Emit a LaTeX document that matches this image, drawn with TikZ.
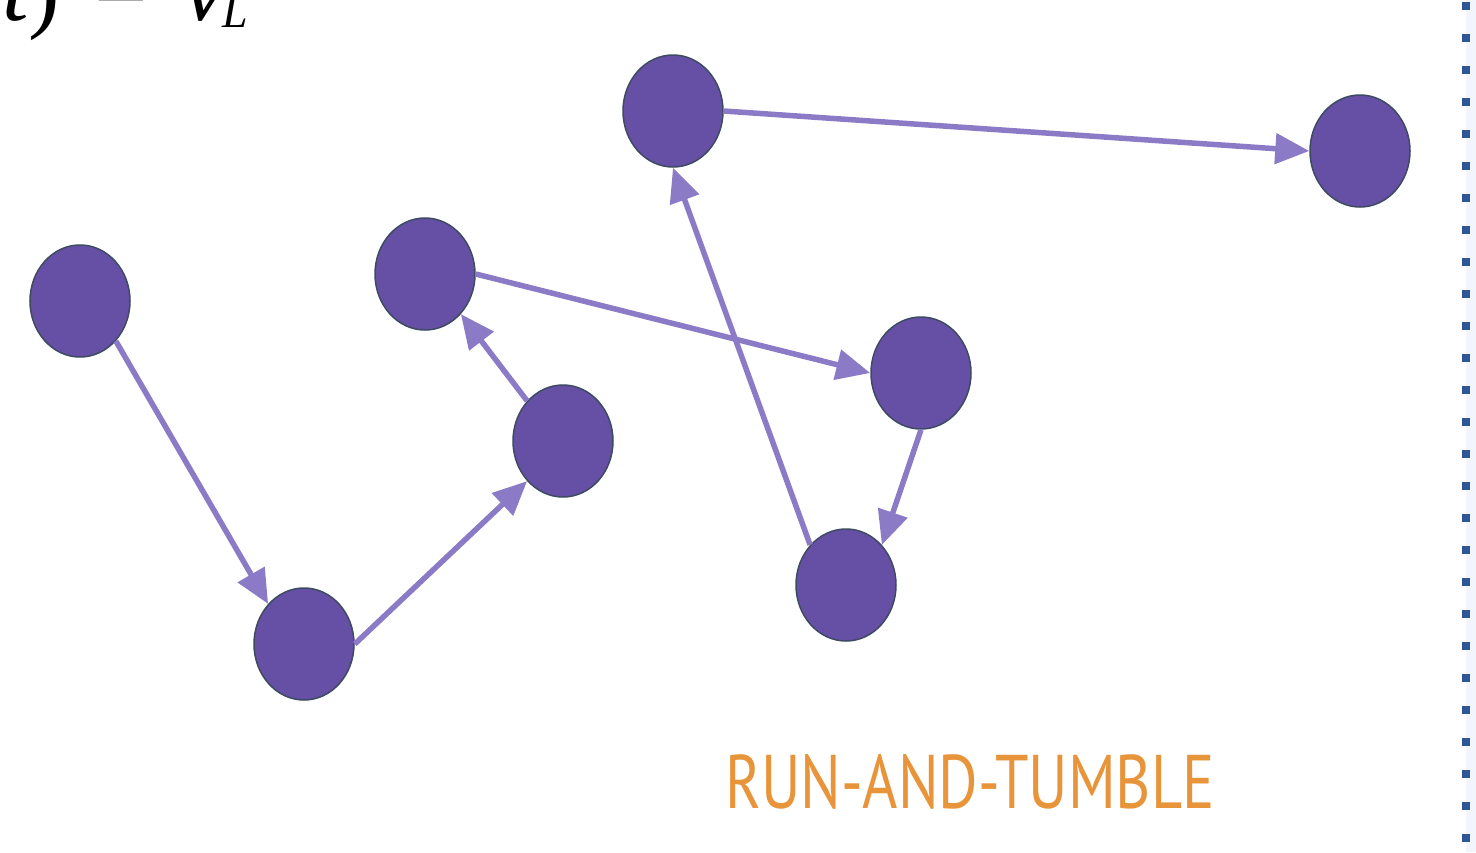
\documentclass[tikz,border=0pt]{standalone}
\usepackage{fontspec}
\usepackage{tikz}
\usetikzlibrary{shapes.geometric,arrows.meta}
\newfontfamily\labelfont{PT Sans}
\newfontfamily\formulafont{Liberation Serif}
\definecolor{cellfill}{HTML}{6650A6}
\definecolor{cellline}{HTML}{3E4A61}
\definecolor{runline}{HTML}{8B7BC6}
\definecolor{tumbleorange}{HTML}{E8943A}
\definecolor{edgeblue}{HTML}{2F5597}
\definecolor{edgestrip}{HTML}{F2F6FC}
\tikzstyle{cell}=[ellipse,draw=cellline,fill=cellfill,line width=1.5pt,minimum width=100pt,minimum height=112pt,inner sep=0pt]
\tikzstyle{run}=[color=runline,line width=5.5pt,-{Triangle[length=34pt,width=30pt]}]

\begin{document}
\begin{tikzpicture}[x=1pt,y=-1pt]
  \useasboundingbox (0,0) rectangle (1476,852);
  % right hand border of the slide
  \fill[edgestrip] (1466,0) rectangle (1476,852);
  \foreach \k in {0,...,26}
    \fill[edgeblue] (1462,2+32*\k) rectangle (1470,10+32*\k);
  % formula cut off at the top
  \node(formula)[anchor=base west,inner sep=0pt] at (2,20)
    {\fontsize{95}{95}\selectfont\formulafont\itshape t\upshape)\hspace{34pt}=\hspace{36pt}\itshape v\hspace{-3pt}\fontsize{46}{46}\selectfont\raisebox{-7pt}{L}};
  \node(s0)[cell] at (80,301){};
  \node(s1)[cell] at (304,644){};
  \node(s2)[cell] at (563,441){};
  \node(s3)[cell] at (425,274){};
  \node(s4)[cell] at (921,373){};
  \node(s5)[cell] at (846,585){};
  \node(s6)[cell] at (673,111){};
  \node(s7)[cell] at (1360,151){};
  \draw[run] (s0.south east) -- (s1.north west);
  \draw[run] (s1.east) -- (s2.south west);
  \draw[run] (s2.north west) -- (s3.south east);
  \draw[run] (s3.east) -- (s4.west);
  \draw[run] (s4.south) -- (s5.north east);
  \draw[run] (s5.north west) -- (s6.south);
  \draw[run] (s6.east) -- (s7.west);
  \node(title)[anchor=base west,inner sep=0pt,xscale=0.795,text=tumbleorange] at (725,808)
    {\fontsize{76}{78}\selectfont\labelfont RUN-AND-TUMBLE};
\end{tikzpicture}
\end{document}
